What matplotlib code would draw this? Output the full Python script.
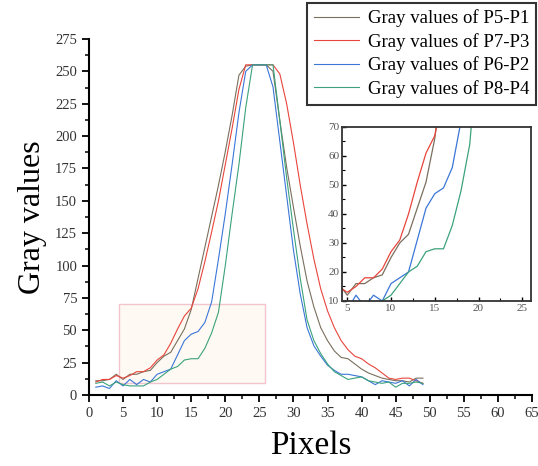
import matplotlib
matplotlib.use('Agg')
import matplotlib.pyplot as plt
from matplotlib.patches import Rectangle
from matplotlib.ticker import MultipleLocator

plt.rcParams['font.family'] = ['Liberation Serif', 'DejaVu Serif']

# pixel positions 1..49
pixels = list(range(1, 50))

# gray values
p5_p1 = [11, 11, 12, 16, 12, 16, 16, 18, 19, 25, 30, 33, 42, 51, 66, 90, 114, 138, 162, 188,
         216, 247, 254, 255, 255, 255, 250, 212, 176, 145, 115, 88, 68, 52, 42, 34, 29, 28, 24, 20,
         17, 15, 13, 12, 11, 11, 10, 13, 13]
p7_p3 = [10, 12, 12, 15, 13, 15, 18, 18, 21, 27, 31, 40, 51, 61, 67, 82, 103, 126, 150, 178,
         206, 236, 255, 255, 255, 255, 255, 248, 225, 195, 162, 132, 105, 82, 65, 52, 42, 35, 30, 28,
         24, 21, 17, 13, 12, 13, 13, 11, 9]
p6_p2 = [6, 7, 5, 11, 7, 12, 8, 12, 10, 16, 18, 20, 31, 42, 47, 49, 56, 72, 105, 140,
         178, 218, 250, 255, 255, 255, 238, 196, 154, 112, 78, 52, 38, 30, 23, 19, 16, 16, 15, 14,
         11, 8, 11, 10, 9, 11, 7, 12, 8]
p8_p4 = [9, 10, 7, 10, 8, 7, 7, 7, 10, 12, 16, 20, 22, 27, 28, 28, 36, 48, 64, 100,
         140, 178, 222, 255, 255, 255, 255, 212, 168, 128, 90, 58, 42, 32, 24, 18, 15, 12, 13, 14,
         11, 10, 9, 10, 6, 9, 9, 10, 9]

labels = ['Gray values of P5-P1', 'Gray values of P7-P3',
          'Gray values of P6-P2', 'Gray values of P8-P4']
colors = ['#7a6f5e', '#e8453c', '#3b76d8', '#3ba27b']
series = [p5_p1, p7_p3, p6_p2, p8_p4]

fig = plt.figure(figsize=(5.38, 4.66), dpi=100)
ax = fig.add_axes([0.1654, 0.1524, 0.8234, 0.764])

# highlighted zoom region
ax.add_patch(Rectangle((4.4, 9.3), 21.4, 61, facecolor='#fefaf3',
                       edgecolor='#f3c3cf', linewidth=1.0, zorder=0))

for s, c, lab in zip(series, colors, labels):
    ax.plot(pixels, s, color=c, lw=0.8, label=lab, zorder=2)

ax.set_xlim(0, 65)
ax.set_ylim(0, 275)
ax.xaxis.set_major_locator(MultipleLocator(5))
ax.xaxis.set_minor_locator(MultipleLocator(2.5))
ax.yaxis.set_major_locator(MultipleLocator(25))
ax.yaxis.set_minor_locator(MultipleLocator(12.5))
ax.spines['top'].set_visible(False)
ax.spines['right'].set_visible(False)
for sp in ['left', 'bottom']:
    ax.spines[sp].set_linewidth(1.5)
ax.tick_params(which='major', direction='out', length=5, width=1.3,
               labelsize=10.5, labelcolor='#333333')
ax.tick_params(which='minor', direction='out', length=3, width=1.1)
ax.set_xlabel('Pixels', fontsize=24, labelpad=8)
ax.set_ylabel('Gray values', fontsize=23, labelpad=6)

# inset
ins = fig.add_axes([0.6357, 0.3541, 0.3513, 0.3734])
for s, c in zip(series, colors):
    ins.plot(pixels, s, color=c, lw=0.9)
ins.set_xlim(4.4, 26)
ins.set_ylim(10, 70)
ins.xaxis.set_major_locator(MultipleLocator(5))
ins.yaxis.set_major_locator(MultipleLocator(10))
ins.yaxis.set_minor_locator(MultipleLocator(5))
ins.xaxis.set_minor_locator(MultipleLocator(2.5))
for sp in ins.spines.values():
    sp.set_linewidth(1.3)
    sp.set_color('#333333')
ins.tick_params(which='major', direction='in', length=3, width=1,
                labelsize=8, labelcolor='#555555', pad=2)
ins.tick_params(which='minor', direction='in', length=2, width=0.8)

leg = fig.legend(loc='upper right', bbox_to_anchor=(536 / 538, 1 - 3 / 466),
                 borderaxespad=0, fontsize=13.5, frameon=True, fancybox=False,
                 edgecolor='black', handlelength=2.4, labelspacing=0.3,
                 borderpad=0.35, handletextpad=0.5)
leg.get_frame().set_linewidth(1.5)

fig.savefig('out.png', dpi=100)
